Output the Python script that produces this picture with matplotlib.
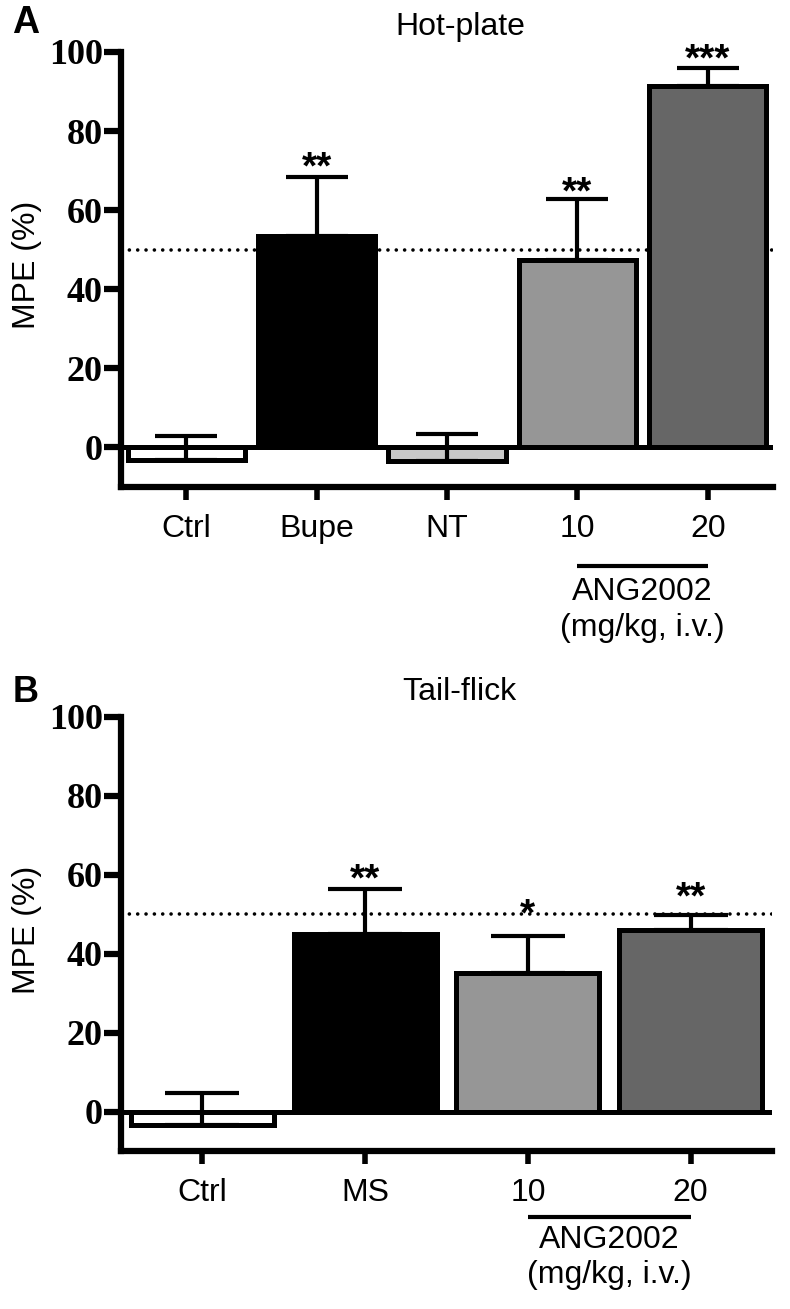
import numpy as np
import matplotlib.pyplot as plt
from matplotlib.transforms import blended_transform_factory

# panel A: hot-plate
hot_groups = ["Ctrl", "Bupe", "NT", "10", "20"]
hot_mean = [-3.3, 53.5, -3.5, 47.3, 91.4]
hot_sem = [6.3, 14.9, 7.0, 15.5, 4.5]
hot_stars = ["", "**", "", "**", "***"]
hot_colors = ["white", "black", "#c8c8c8", "#969696", "#666666"]

# panel B: tail-flick
tail_groups = ["Ctrl", "MS", "10", "20"]
tail_mean = [-3.5, 45.0, 35.0, 46.1]
tail_sem = [8.3, 11.3, 9.4, 3.6]
tail_stars = ["", "**", "*", "**"]
tail_colors = ["white", "black", "#969696", "#666666"]

yticks = [0, 20, 40, 60, 80, 100]
ref_line = 50

SANS = "Liberation Sans"
SERIF = "Liberation Serif"


def draw_panel(ax, groups, mean, sem, stars, colors, title, width, capsize,
               star_pad, group_span, group_y):
    x = np.arange(len(groups))

    ax.axhline(ref_line, color="black", lw=2.6, ls=(0, (0.01, 2.3)),
               dash_capstyle="round", zorder=1)
    ax.axhline(0, color="black", lw=3.6, zorder=2)
    ax.bar(x, mean, width, color=colors, edgecolor="black",
           linewidth=3.6, zorder=3)
    ax.errorbar(x, mean, yerr=[np.zeros(len(x)), sem], fmt="none",
                ecolor="black", elinewidth=3, capsize=capsize, capthick=3,
                zorder=4)

    for xi, m, s, st, pad in zip(x, mean, sem, stars, star_pad):
        if st:
            ax.annotate(st, (xi, m + s), xytext=(0, pad),
                        textcoords="offset points", ha="center",
                        va="baseline", fontsize=28, fontweight="bold",
                        family=SANS)

    ax.set_xlim(-0.5, len(groups) - 0.5)
    ax.set_ylim(-10, 100)
    ax.spines["top"].set_visible(False)
    ax.spines["right"].set_visible(False)
    ax.spines["left"].set_linewidth(4.5)
    ax.spines["bottom"].set_linewidth(4.5)

    ax.set_yticks(yticks)
    ax.set_yticklabels([str(t) for t in yticks], family=SERIF,
                       fontweight="bold", fontsize=26)
    ax.set_xticks(x)
    ax.set_xticklabels(groups, family=SANS, fontsize=23)
    ax.tick_params(axis="y", length=12, width=4.5, pad=1)
    ax.tick_params(axis="x", length=9.5, width=4, pad=10)

    ax.text(-0.144, 0.51, "MPE (%)", transform=ax.transAxes, rotation=90,
            ha="center", va="center", family=SANS, fontsize=23)
    ax.text(0.52, 1.057, title, transform=ax.transAxes, ha="center",
            va="center", family=SANS, fontsize=23)

    # ANG2002 group bracket under the dose ticks
    tr = blended_transform_factory(ax.transData, ax.transAxes)
    x0, x1 = x[group_span[0]], x[group_span[1]]
    ax.plot([x0, x1], [group_y[0], group_y[0]], color="black", lw=3,
            transform=tr, clip_on=False, solid_capstyle="butt")
    ax.text((x0 + x1) / 2, group_y[1], "ANG2002", transform=tr,
            ha="center", va="center", family=SANS, fontsize=23)
    ax.text((x0 + x1) / 2, group_y[2], "(mg/kg, i.v.)", transform=tr,
            ha="center", va="center", family=SANS, fontsize=23)


fig = plt.figure(figsize=(7.9, 13.09), dpi=100)
ax_a = fig.add_axes([0.1532, 0.6280, 0.8253, 0.3323])
ax_b = fig.add_axes([0.1532, 0.1207, 0.8240, 0.3316])

draw_panel(ax_a, hot_groups, hot_mean, hot_sem, hot_stars, hot_colors,
           "Hot-plate", 0.9, 22.5, [-1, -1, -1, -3, -2], (3, 4),
           (-0.182, -0.241, -0.324))
draw_panel(ax_b, tail_groups, tail_mean, tail_sem, tail_stars, tail_colors,
           "Tail-flick", 0.88, 26.5, [-1, -1, 8, 5], (2, 3),
           (-0.152, -0.205, -0.286))

fig.text(26 / 790, 1 - 23 / 1309, "A", ha="center", va="center",
         family=SANS, fontweight="bold", fontsize=27)
fig.text(26 / 790, 1 - 692 / 1309, "B", ha="center", va="center",
         family=SANS, fontweight="bold", fontsize=26)

fig.savefig("out.png", dpi=100)
